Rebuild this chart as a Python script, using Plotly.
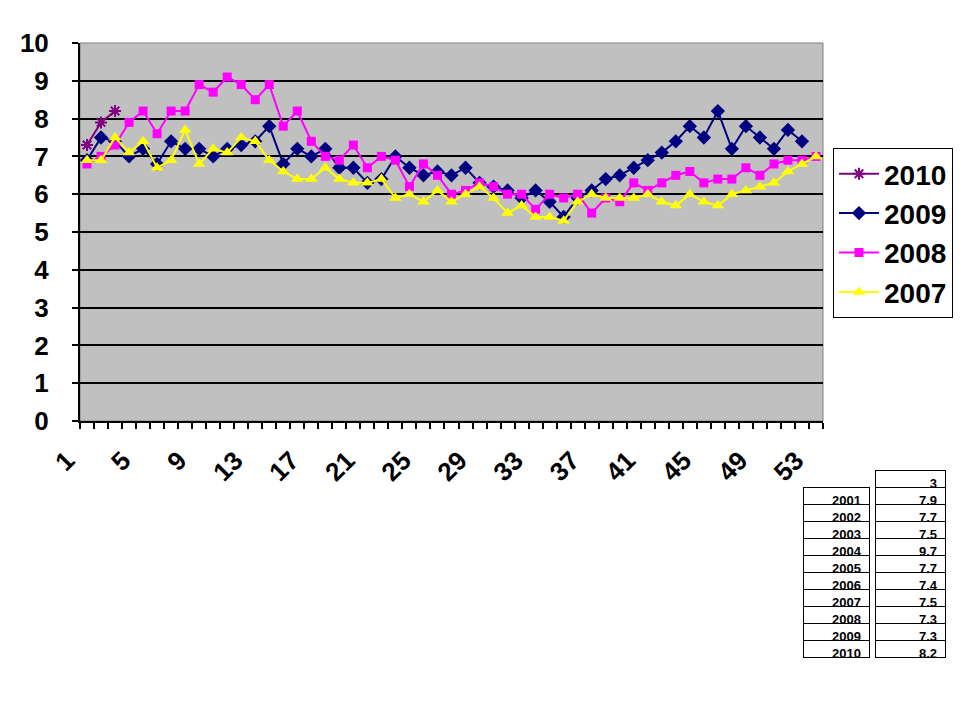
import plotly.graph_objects as go

# weekly values
weeks = list(range(1, 54))
tick_weeks = list(range(1, 54, 4))

y2010 = [7.3, 7.9, 8.2]
y2009 = [6.9, 7.5, 7.4, 7.0, 7.2, 6.8, 7.4, 7.2, 7.2, 7.0,
         7.2, 7.3, 7.4, 7.8, 6.8, 7.2, 7.0, 7.2, 6.7, 6.7,
         6.3, 6.4, 7.0, 6.7, 6.5, 6.6, 6.5, 6.7, 6.3, 6.2,
         6.1, 5.9, 6.1, 5.8, 5.4, 5.9, 6.1, 6.4, 6.5, 6.7,
         6.9, 7.1, 7.4, 7.8, 7.5, 8.2, 7.2, 7.8, 7.5, 7.2,
         7.7, 7.4]
y2008 = [6.8, 7.0, 7.3, 7.9, 8.2, 7.6, 8.2, 8.2, 8.9, 8.7,
         9.1, 8.9, 8.5, 8.9, 7.8, 8.2, 7.4, 7.0, 6.9, 7.3,
         6.7, 7.0, 6.9, 6.2, 6.8, 6.5, 6.0, 6.1, 6.3, 6.2,
         6.0, 6.0, 5.6, 6.0, 5.9, 6.0, 5.5, 5.9, 5.8, 6.3,
         6.1, 6.3, 6.5, 6.6, 6.3, 6.4, 6.4, 6.7, 6.5, 6.8,
         6.9, 6.9, 7.0]
y2007 = [6.9, 6.9, 7.5, 7.1, 7.4, 6.7, 6.9, 7.7, 6.8, 7.2,
         7.1, 7.5, 7.4, 6.9, 6.6, 6.4, 6.4, 6.7, 6.4, 6.3,
         6.3, 6.4, 5.9, 6.0, 5.8, 6.1, 5.8, 6.0, 6.2, 5.9,
         5.5, 5.7, 5.4, 5.4, 5.3, 5.8, 6.0, 5.9, 5.9, 5.9,
         6.0, 5.8, 5.7, 6.0, 5.8, 5.7, 6.0, 6.1, 6.2, 6.3,
         6.6, 6.8, 7.0]

# small table under the legend
table_years = ['2001', '2002', '2003', '2004', '2005',
               '2006', '2007', '2008', '2009', '2010']
table_values = ['3', '7.9', '7.7', '7.5', '9.7', '7.7',
                '7.4', '7.5', '7.3', '7.3', '8.2']

# the page puts the figure 8px in from the window edge
OFF = 8
W, H = 969 - 2 * OFF, 718 - 2 * OFF
FONT = 'Liberation Sans, Arial, sans-serif'


def dom_x(x0, x1):
    return [(x0 - OFF) / W, (x1 - OFF) / W]


def dom_y(top, bottom):
    return [1 - (bottom - OFF) / H, 1 - (top - OFF) / H]


fig = go.Figure()

fig.add_trace(go.Scatter(
    x=weeks[:len(y2009)], y=y2009, name='2009', legendrank=2,
    mode='lines+markers', line=dict(color='#000080', width=2),
    marker=dict(symbol='diamond', size=11, color='#000080')))
fig.add_trace(go.Scatter(
    x=weeks, y=y2008, name='2008', legendrank=3,
    mode='lines+markers', line=dict(color='#FF00FF', width=2),
    marker=dict(symbol='square', size=9, color='#FF00FF')))
fig.add_trace(go.Scatter(
    x=weeks, y=y2007, name='2007', legendrank=4,
    mode='lines+markers', line=dict(color='#FFFF00', width=2),
    marker=dict(symbol='triangle-up', size=11, color='#FFFF00')))
fig.add_trace(go.Scatter(
    x=weeks[:len(y2010)], y=y2010, name='2010', legendrank=1,
    mode='lines+markers', line=dict(color='#800080', width=2),
    marker=dict(symbol='asterisk-open', size=10, color='#800080',
                line=dict(color='#800080', width=2))))

cell_font = dict(family=FONT, size=13, color='black', weight='bold')
fig.add_trace(go.Table(
    domain=dict(x=dom_x(803, 870), y=dom_y(487, 708)),
    columnwidth=[1],
    header=dict(values=[table_years[0]], align='right', height=17,
                fill_color='white', line_color='black', font=cell_font),
    cells=dict(values=[table_years[1:]], align='right', height=17,
               fill_color='white', line_color='black', font=cell_font)))
fig.add_trace(go.Table(
    domain=dict(x=dom_x(875, 945), y=dom_y(470, 708)),
    columnwidth=[1],
    header=dict(values=[table_values[0]], align='right', height=17,
                fill_color='white', line_color='black', font=cell_font),
    cells=dict(values=[table_values[1:]], align='right', height=17,
               fill_color='white', line_color='black', font=cell_font)))

fig.update_layout(
    width=W, height=H,
    margin=dict(l=0, r=0, t=0, b=0, autoexpand=False),
    paper_bgcolor='white',
    plot_bgcolor='#C0C0C0',
    font=dict(family=FONT, color='black'),
    xaxis=dict(domain=dom_x(80, 823), range=[0.5, 53.5], automargin=False,
               tickmode='array', tickvals=tick_weeks, tickangle=-45,
               tickfont=dict(size=26, weight='bold'),
               ticks='', ticklabelshift=-20, ticklabelstandoff=12,
               minor=dict(tick0=0.5, dtick=1, ticks='outside', ticklen=6,
                          tickcolor='black', tickwidth=2, showgrid=False),
               showgrid=False, zeroline=False,
               showline=True, linecolor='black', linewidth=2),
    yaxis=dict(domain=dom_y(43, 421), range=[0, 10], dtick=1,
               automargin=False,
               tickfont=dict(size=26, weight='bold'),
               ticks='outside', ticklen=6, tickcolor='black', tickwidth=2,
               ticklabelstandoff=18,
               showgrid=True, gridcolor='black', gridwidth=2,
               zeroline=False,
               showline=True, linecolor='black', linewidth=2),
    legend=dict(x=(833 - OFF) / W, y=1 - (148 - OFF) / H,
                xanchor='left', yanchor='top', itemwidth=40,
                bgcolor='white', bordercolor='black', borderwidth=1,
                font=dict(size=28, weight='bold')),
    shapes=[dict(type='rect', xref='paper', yref='paper',
                 x0=dom_x(80, 823)[0], x1=dom_x(80, 823)[1],
                 y0=dom_y(43, 421)[0], y1=dom_y(43, 421)[1],
                 line=dict(color='#808080', width=1), layer='below')],
)

fig.write_html('out.html')
